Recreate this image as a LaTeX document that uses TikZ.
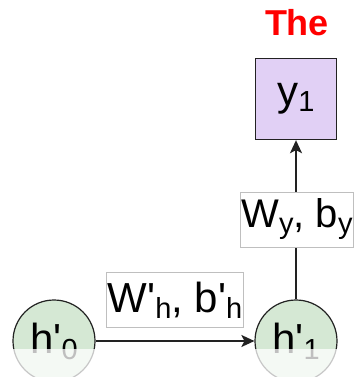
\documentclass[tikz,border=0pt]{standalone}
\usepackage{fontspec}
\setmainfont{Liberation Sans}
\usetikzlibrary{arrows.meta}
\definecolor{hfill}{HTML}{D5E8D4}
\definecolor{yfill}{HTML}{E1D0F5}
\definecolor{edge}{HTML}{222222}
\newcommand\lsub[1]{\raisebox{-6pt}{\fontsize{29}{29}\selectfont #1}}
\newcommand\pr{\textquotesingle}
\tikzset{
  hnode/.style={circle, draw=edge, line width=1.2pt, fill=hfill, minimum size=82pt, inner sep=0pt, font=\fontsize{42}{44}\selectfont},
  ynode/.style={rectangle, draw=edge, line width=1.4pt, fill=yfill, minimum size=81pt, inner sep=0pt, font=\fontsize{42}{44}\selectfont},
  lbl/.style={rectangle, draw=black!25, line width=0.6pt, fill=white, minimum height=55pt, inner xsep=1pt, inner ysep=0pt, font=\fontsize{42}{44}\selectfont},
  conn/.style={draw=edge, line width=1.5pt},
  arr/.style={conn, -{Stealth[length=13pt,width=12pt,inset=3pt]}},
  title/.style={text=red, font=\fontsize{36}{36}\selectfont\bfseries}
}
\begin{document}
\begin{tikzpicture}[x=1pt,y=-1pt]
\useasboundingbox (0,0) rectangle (356,377);
\clip (0,0) rectangle (356,377);
\node[hnode] (h0) at (54,341) {h\pr\lsub{0}};
\node[hnode] (h1) at (296,341) {h\pr\lsub{1}};
\node[ynode] (y1) at (296,99) {y\lsub{1}};
\node[title] (t) at (297,23) {The};
\draw[arr] (h0) -- (h1);
\draw[arr] (h1) -- (y1);
\node[lbl] (lh) at (175,300) {W\pr\lsub{h}, b\pr\lsub{h}};
\node[lbl, anchor=west, font=\fontsize{40}{42}\selectfont] (ly) at (240,219.5) {W\lsub{y}, b\lsub{y}};
\fill[white, opacity=0.75] (0,349) rectangle (356,377);
\end{tikzpicture}
\end{document}
